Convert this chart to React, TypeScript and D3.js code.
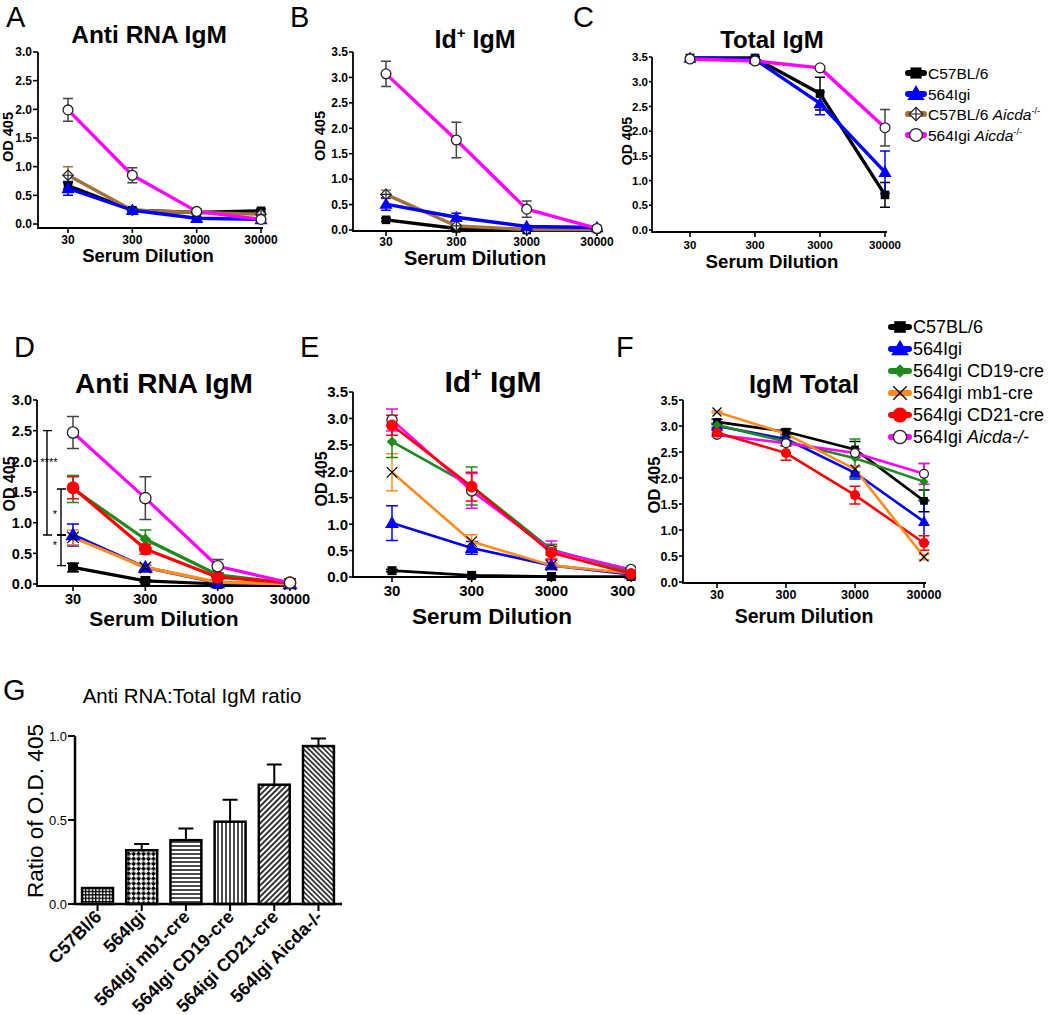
import React from "react";
import * as d3 from "d3";

const FONT = '"Liberation Sans", Arial, Helvetica, sans-serif';

// ---------- shared categories ----------
const dilutions = [30, 300, 3000, 30000];
const dilutionLabels = ["30", "300", "3000", "30000"];

// ---------- Panel A : Anti RNA IgM ----------
const aC57 = [0.67, 0.24, 0.2, 0.23];
const aC57Err = [0.06, 0.03, 0.03, 0.03];
const aIgi = [0.62, 0.24, 0.1, 0.08];
const aIgiErr = [0.12, 0.03, 0.02, 0.02];
const aC57Aicda = [0.85, 0.24, 0.2, 0.17];
const aC57AicdaErr = [0.15, 0.03, 0.02, 0.02];
const aIgiAicda = [1.99, 0.85, 0.22, 0.08];
const aIgiAicdaErr = [0.2, 0.13, 0.04, 0.03];

// ---------- Panel B : Id+ IgM ----------
const bC57 = [0.2, 0.03, 0.0, 0.02];
const bC57Err = [0.03, 0.01, 0.01, 0.01];
const bIgi = [0.51, 0.25, 0.07, 0.05];
const bIgiErr = [0.12, 0.08, 0.02, 0.01];
const bC57Aicda = [0.7, 0.08, 0.01, 0.01];
const bC57AicdaErr = [0.08, 0.02, 0.01, 0.01];
const bIgiAicda = [3.07, 1.77, 0.41, 0.03];
const bIgiAicdaErr = [0.25, 0.35, 0.16, 0.02];

// ---------- Panel C : Total IgM ----------
const cC57 = [3.48, 3.48, 2.76, 0.71];
const cC57Err = [0.02, 0.03, 0.33, 0.25];
const cIgi = [3.48, 3.45, 2.56, 1.17];
const cIgiErr = [0.02, 0.03, 0.23, 0.43];
const cIgiAicda = [3.46, 3.42, 3.28, 2.07];
const cIgiAicdaErr = [0.02, 0.02, 0.03, 0.37];

// ---------- Panel D : Anti RNA IgM ----------
const dC57 = [0.27, 0.05, 0.0, 0.0];
const dC57Err = [0.07, 0.02, 0.01, 0.01];
const dIgi = [0.8, 0.27, 0.02, 0.0];
const dIgiErr = [0.18, 0.04, 0.01, 0.01];
const dCD19 = [1.55, 0.73, 0.15, 0.01];
const dCD19Err = [0.22, 0.15, 0.03, 0.01];
const dMb1 = [0.76, 0.27, 0.03, 0.0];
const dMb1Err = [0.12, 0.04, 0.01, 0.01];
const dCD21 = [1.57, 0.57, 0.11, 0.02];
const dCD21Err = [0.18, 0.08, 0.03, 0.01];
const dAicda = [2.47, 1.4, 0.29, 0.02];
const dAicdaErr = [0.26, 0.35, 0.11, 0.01];

// significance brackets in D (data-space ends)
const sigFrom = [2.5, 1.55, 0.8];
const sigTo = [0.8, 0.8, 0.3];
const sigLabels = ["****", "*", "*"];
const sigLabelAt = [2.05, 1.2, 0.7];

// ---------- Panel E : Id+ IgM ----------
const eC57 = [0.12, 0.03, 0.01, 0.01];
const eC57Err = [0.02, 0.01, 0.01, 0.01];
const eIgi = [1.02, 0.55, 0.22, 0.05];
const eIgiErr = [0.33, 0.12, 0.04, 0.01];
const eCD19 = [2.56, 1.72, 0.52, 0.1];
const eCD19Err = [0.3, 0.36, 0.1, 0.02];
const eMb1 = [1.98, 0.67, 0.22, 0.07];
const eMb1Err = [0.35, 0.13, 0.04, 0.02];
const eCD21 = [2.87, 1.71, 0.46, 0.06];
const eCD21Err = [0.19, 0.27, 0.12, 0.02];
const eAicda = [2.97, 1.63, 0.5, 0.14];
const eAicdaErr = [0.21, 0.33, 0.18, 0.03];

// ---------- Panel F : IgM Total ----------
const fC57 = [3.08, 2.89, 2.55, 1.56];
const fC57Err = [0.05, 0.05, 0.15, 0.21];
const fIgi = [3.0, 2.75, 2.1, 1.16];
const fIgiErr = [0.05, 0.06, 0.12, 0.4];
const fCD19 = [3.02, 2.7, 2.38, 1.93];
const fCD19Err = [0.04, 0.08, 0.37, 0.35];
const fMb1 = [3.27, 2.85, 2.17, 0.48];
const fMb1Err = [0.02, 0.03, 0.05, 0.05];
const fCD21 = [2.87, 2.48, 1.67, 0.75];
const fCD21Err = [0.05, 0.14, 0.17, 0.14];
const fAicda = [2.83, 2.67, 2.48, 2.08];
const fAicdaErr = [0.03, 0.05, 0.08, 0.2];

// ---------- Panel G : ratio bars ----------
const ratioCats = [
  "C57Bl/6",
  "564Igi",
  "564Igi mb1-cre",
  "564Igi CD19-cre",
  "564igi CD21-cre",
  "564Igi Aicda-/-",
];
const ratioValues = [0.095, 0.32, 0.38, 0.49, 0.71, 0.94];
const ratioErr = [0.0, 0.037, 0.07, 0.13, 0.12, 0.045];
const ratioPatterns = ["pGrid", "pChecker", "pH", "pV", "pD1", "pD2"];
const ratioTicks = [0, 0.5, 1.0];

// ---------- legends ----------
const legendCKeys = ["c57", "igi", "c57aicda", "igiaicda"];
const legendCNames = ["C57BL/6", "564Igi", "C57BL/6 ", "564Igi "];
const legendCItalic = ["", "", "Aicda", "Aicda"];
const legendCSup = ["", "", "-/-", "-/-"];

const legendFKeys = ["c57", "igi", "cd19", "mb1", "cd21", "igiaicda"];
const legendFNames = ["C57BL/6", "564Igi", "564Igi CD19-cre", "564Igi mb1-cre", "564Igi CD21-cre", "564Igi "];
const legendFItalic = ["", "", "", "", "", "Aicda-/-"];

// ---------- styles ----------
const STYLE: Record<string, { color: string; marker: string }> = {
  c57: { color: "#000000", marker: "square" },
  igi: { color: "#0000ff", marker: "triangle" },
  c57aicda: { color: "#a4703c", marker: "diamondCross" },
  igiaicda: { color: "#ff00ff", marker: "circleOpen" },
  cd19: { color: "#1e8a1e", marker: "diamond" },
  mb1: { color: "#ff8c1a", marker: "x" },
  cd21: { color: "#ff0000", marker: "circleFilled" },
};

function Marker({ kind, x, y, s }: { kind: string; x: number; y: number; s: number }) {
  switch (kind) {
    case "square":
      return <rect x={x - 4.3 * s} y={y - 4.3 * s} width={8.6 * s} height={8.6 * s} fill="#000" />;
    case "triangle": {
      const p = d3.symbol().type(d3.symbolTriangle).size(75 * s * s)() as string;
      return <path d={p} transform={`translate(${x},${y + 1})`} fill="#0000ff" />;
    }
    case "diamondCross": {
      const r = 5.2 * s;
      return (
        <g stroke="#222" strokeWidth={1.2} fill="#fff">
          <path d={`M${x},${y - r}L${x + r},${y}L${x},${y + r}L${x - r},${y}Z`} />
          <path d={`M${x - r},${y}L${x + r},${y}M${x},${y - r}L${x},${y + r}`} fill="none" />
        </g>
      );
    }
    case "circleOpen":
      return <circle cx={x} cy={y} r={4.9 * s} fill="#fff" stroke="#222" strokeWidth={1.3} />;
    case "diamond": {
      const r = 5 * s;
      return <path d={`M${x},${y - r}L${x + r},${y}L${x},${y + r}L${x - r},${y}Z`} fill="#1e8a1e" />;
    }
    case "x": {
      const r = 5 * s;
      return (
        <path
          d={`M${x - r},${y - r}L${x + r},${y + r}M${x - r},${y + r}L${x + r},${y - r}`}
          stroke="#000"
          strokeWidth={1.3}
          fill="none"
        />
      );
    }
    case "circleFilled":
      return <circle cx={x} cy={y} r={5.6 * s} fill="#ff0000" />;
    default:
      return null;
  }
}

type Series = { key: string; values: number[]; err: number[] };

type PanelCfg = {
  id: string;
  letter: string;
  letterX: number;
  letterY: number;
  title: string;
  titleSup?: boolean;
  titleX: number;
  titleY: number;
  titleSize: number;
  axisX: number;
  x30: number;
  x30000: number;
  y0: number;
  yTop: number;
  yMax: number;
  xAxisY: number;
  tickSize: number;
  xTickDy: number;
  yTickLen: number;
  xTitleX: number;
  xTitleY: number;
  xTitleSize: number;
  odX: number;
  odY: number;
  odSize: number;
  lineW: number;
  ms: number;
  capW: number;
  clipX?: number;
  circleErrColor: string;
  series: Series[];
};

function LinePanel({ cfg, children }: { cfg: PanelCfg; children?: React.ReactNode }) {
  const x = d3.scaleLog().domain([30, 30000]).range([cfg.x30, cfg.x30000]);
  const y = d3.scaleLinear().domain([0, cfg.yMax]).range([cfg.y0, cfg.yTop]);
  const line = d3
    .line<number>()
    .x((_, i) => x(dilutions[i]))
    .y((d) => y(d));
  const yTicks = d3.range(0, cfg.yMax + 1e-6, 0.5);
  const fmt = d3.format(".1f");
  const supSize = cfg.titleSize * 0.6;
  return (
    <g clipPath={cfg.clipX ? `url(#clip${cfg.id})` : undefined}>
      {cfg.clipX ? (
        <defs>
          <clipPath id={`clip${cfg.id}`}>
            <rect x={0} y={0} width={cfg.clipX} height={1015} />
          </clipPath>
        </defs>
      ) : null}
      <text x={cfg.letterX} y={cfg.letterY} fontSize={29} fontFamily={FONT}>
        {cfg.letter}
      </text>
      <text x={cfg.titleX} y={cfg.titleY} fontSize={cfg.titleSize} fontWeight="bold" fontFamily={FONT} textAnchor="middle">
        {cfg.titleSup ? (
          <>
            Id
            <tspan fontSize={supSize} dy={-cfg.titleSize * 0.4}>
              +
            </tspan>
            <tspan dy={cfg.titleSize * 0.4}> IgM</tspan>
          </>
        ) : (
          cfg.title
        )}
      </text>
      {/* axes */}
      <path
        d={`M${cfg.axisX},${cfg.yTop}V${cfg.xAxisY}H${cfg.x30000 + 2}`}
        fill="none"
        stroke="#000"
        strokeWidth={1.8}
      />
      {yTicks.map((t) => (
        <g key={t}>
          <line x1={cfg.axisX - cfg.yTickLen} x2={cfg.axisX} y1={y(t)} y2={y(t)} stroke="#000" strokeWidth={1.6} />
          <text
            x={cfg.axisX - cfg.yTickLen - 1}
            y={y(t)}
            dy="0.36em"
            textAnchor="end"
            fontSize={cfg.tickSize}
            fontWeight="bold"
            fontFamily={FONT}
          >
            {fmt(t)}
          </text>
        </g>
      ))}
      {dilutions.map((d, i) => (
        <g key={d}>
          <line x1={x(d)} x2={x(d)} y1={cfg.xAxisY} y2={cfg.xAxisY + 5} stroke="#000" strokeWidth={1.6} />
          <text
            x={x(d)}
            y={cfg.xAxisY + cfg.xTickDy}
            textAnchor="middle"
            fontSize={cfg.tickSize}
            fontWeight="bold"
            fontFamily={FONT}
          >
            {dilutionLabels[i]}
          </text>
        </g>
      ))}
      <text
        x={cfg.xTitleX}
        y={cfg.xTitleY}
        textAnchor="middle"
        fontSize={cfg.xTitleSize}
        fontWeight="bold"
        fontFamily={FONT}
      >
        Serum Dilution
      </text>
      <text
        transform={`translate(${cfg.odX},${cfg.odY}) rotate(-90)`}
        textAnchor="middle"
        fontSize={cfg.odSize}
        fontWeight="bold"
        fontFamily={FONT}
      >
        OD 405
      </text>
      {children}
      {/* error bars */}
      {cfg.series.map((s) => {
        const st = STYLE[s.key];
        const ec = s.key === "igiaicda" ? cfg.circleErrColor : st.color;
        return (
          <g key={`e${s.key}`} stroke={ec} strokeWidth={1.5} fill="none">
            {s.values.map((v, i) => {
              const lo = Math.max(0, v - s.err[i]);
              const hi = v + s.err[i];
              const cx = x(dilutions[i]);
              return (
                <path
                  key={i}
                  d={`M${cx},${y(lo)}V${y(hi)}M${cx - cfg.capW / 2},${y(hi)}H${cx + cfg.capW / 2}M${cx - cfg.capW / 2},${y(lo)}H${cx + cfg.capW / 2}`}
                />
              );
            })}
          </g>
        );
      })}
      {/* lines */}
      {cfg.series.map((s) => (
        <path
          key={`l${s.key}`}
          d={line(s.values) as string}
          fill="none"
          stroke={STYLE[s.key].color}
          strokeWidth={cfg.lineW}
          strokeLinejoin="round"
        />
      ))}
      {/* markers */}
      {cfg.series.map((s) => (
        <g key={`m${s.key}`}>
          {s.values.map((v, i) => (
            <Marker key={i} kind={STYLE[s.key].marker} x={x(dilutions[i])} y={y(v)} s={cfg.ms} />
          ))}
        </g>
      ))}
    </g>
  );
}

const panelA: PanelCfg = {
  id: "A", letter: "A", letterX: 6, letterY: 27, title: "Anti RNA IgM", titleX: 149, titleY: 43, titleSize: 24.5,
  axisX: 38, x30: 68, x30000: 261, y0: 224, yTop: 52, yMax: 3.0, xAxisY: 228, tickSize: 12, xTickDy: 16, yTickLen: 5,
  xTitleX: 148, xTitleY: 262, xTitleSize: 18.5, odX: 13, odY: 137, odSize: 14.5, lineW: 3.4, ms: 1.0, capW: 10,
  circleErrColor: "#444",
  series: [
    { key: "c57", values: aC57, err: aC57Err },
    { key: "c57aicda", values: aC57Aicda, err: aC57AicdaErr },
    { key: "igi", values: aIgi, err: aIgiErr },
    { key: "igiaicda", values: aIgiAicda, err: aIgiAicdaErr },
  ],
};

const panelB: PanelCfg = {
  id: "B", letter: "B", letterX: 290, letterY: 27, title: "Id+ IgM", titleSup: true, titleX: 475, titleY: 48, titleSize: 25,
  axisX: 353, x30: 386, x30000: 597, y0: 230, yTop: 52, yMax: 3.5, xAxisY: 231, tickSize: 12, xTickDy: 15, yTickLen: 4,
  xTitleX: 475, xTitleY: 265, xTitleSize: 20, odX: 325, odY: 136, odSize: 14.5, lineW: 3.4, ms: 1.0, capW: 10,
  clipX: 614, circleErrColor: "#444",
  series: [
    { key: "c57", values: bC57, err: bC57Err },
    { key: "c57aicda", values: bC57Aicda, err: bC57AicdaErr },
    { key: "igi", values: bIgi, err: bIgiErr },
    { key: "igiaicda", values: bIgiAicda, err: bIgiAicdaErr },
  ],
};

const panelC: PanelCfg = {
  id: "C", letter: "C", letterX: 573, letterY: 27, title: "Total IgM", titleX: 772, titleY: 48, titleSize: 24,
  axisX: 652, x30: 690, x30000: 885, y0: 230, yTop: 57, yMax: 3.5, xAxisY: 232, tickSize: 11.5, xTickDy: 17, yTickLen: 3,
  xTitleX: 772, xTitleY: 268, xTitleSize: 18.7, odX: 632, odY: 141, odSize: 14, lineW: 3.4, ms: 1.0, capW: 10,
  circleErrColor: "#444",
  series: [
    { key: "c57", values: cC57, err: cC57Err },
    { key: "igi", values: cIgi, err: cIgiErr },
    { key: "igiaicda", values: cIgiAicda, err: cIgiAicdaErr },
  ],
};

const panelD: PanelCfg = {
  id: "D", letter: "D", letterX: 14, letterY: 357, title: "Anti RNA IgM", titleX: 164, titleY: 393, titleSize: 28,
  axisX: 37, x30: 73, x30000: 290, y0: 584, yTop: 400, yMax: 3.0, xAxisY: 586, tickSize: 14.5, xTickDy: 18, yTickLen: 4,
  xTitleX: 164, xTitleY: 626, xTitleSize: 21, odX: 15, odY: 484, odSize: 16, lineW: 3.2, ms: 1.15, capW: 12,
  circleErrColor: "#444",
  series: [
    { key: "c57", values: dC57, err: dC57Err },
    { key: "igi", values: dIgi, err: dIgiErr },
    { key: "mb1", values: dMb1, err: dMb1Err },
    { key: "cd19", values: dCD19, err: dCD19Err },
    { key: "cd21", values: dCD21, err: dCD21Err },
    { key: "igiaicda", values: dAicda, err: dAicdaErr },
  ],
};

const panelE: PanelCfg = {
  id: "E", letter: "E", letterX: 300, letterY: 357, title: "Id+ IgM", titleSup: true, titleX: 493, titleY: 392, titleSize: 30,
  axisX: 353, x30: 392, x30000: 631, y0: 577, yTop: 392, yMax: 3.5, xAxisY: 577, tickSize: 15, xTickDy: 19, yTickLen: 4,
  xTitleX: 492, xTitleY: 624, xTitleSize: 22.5, odX: 327, odY: 479, odSize: 16, lineW: 2.6, ms: 1.05, capW: 12,
  clipX: 636, circleErrColor: "#ff00ff",
  series: [
    { key: "c57", values: eC57, err: eC57Err },
    { key: "igi", values: eIgi, err: eIgiErr },
    { key: "mb1", values: eMb1, err: eMb1Err },
    { key: "cd19", values: eCD19, err: eCD19Err },
    { key: "igiaicda", values: eAicda, err: eAicdaErr },
    { key: "cd21", values: eCD21, err: eCD21Err },
  ],
};

const panelF: PanelCfg = {
  id: "F", letter: "F", letterX: 616, letterY: 357, title: "IgM Total", titleX: 804, titleY: 393, titleSize: 25.5,
  axisX: 683, x30: 717, x30000: 924, y0: 582, yTop: 400, yMax: 3.5, xAxisY: 583, tickSize: 12.5, xTickDy: 16, yTickLen: 4,
  xTitleX: 804, xTitleY: 623, xTitleSize: 19.5, odX: 660, odY: 485, odSize: 16.5, lineW: 2.6, ms: 0.9, capW: 11,
  circleErrColor: "#ff00ff",
  series: [
    { key: "c57", values: fC57, err: fC57Err },
    { key: "igi", values: fIgi, err: fIgiErr },
    { key: "cd19", values: fCD19, err: fCD19Err },
    { key: "igiaicda", values: fAicda, err: fAicdaErr },
    { key: "cd21", values: fCD21, err: fCD21Err },
    { key: "mb1", values: fMb1, err: fMb1Err },
  ],
};

function SigBrackets() {
  const y = d3.scaleLinear().domain([0, panelD.yMax]).range([panelD.y0, panelD.yTop]);
  const lineX = [47, 61, 61];
  const labelX = [49, 55, 55];
  return (
    <g>
      {sigFrom.map((f, i) => (
        <g key={i}>
          <path
            d={`M${lineX[i]},${y(f)}V${y(sigTo[i])}M${lineX[i] - 4},${y(f)}H${lineX[i] + 5}M${lineX[i] - 4},${y(sigTo[i])}H${lineX[i] + 5}`}
            stroke="#000"
            strokeWidth={1.4}
            fill="none"
          />
          <text
            x={labelX[i]}
            y={y(sigLabelAt[i])}
            dy="0.7em"
            textAnchor="middle"
            fontSize={11}
            fontFamily={FONT}
          >
            {sigLabels[i]}
          </text>
        </g>
      ))}
    </g>
  );
}

function LegendRow({
  k,
  x,
  y,
  name,
  italic,
  sup,
  size,
  halfLen,
  lineW,
  ms,
}: {
  k: string;
  x: number;
  y: number;
  name: string;
  italic: string;
  sup?: string;
  size: number;
  halfLen: number;
  lineW: number;
  ms: number;
}) {
  const st = STYLE[k];
  return (
    <g>
      <line x1={x - halfLen} x2={x + halfLen} y1={y} y2={y} stroke={st.color} strokeWidth={lineW} strokeLinecap="round" />
      <Marker kind={st.marker} x={x} y={y} s={ms} />
      <text x={x + halfLen + 4} y={y} dy="0.36em" fontSize={size} fontFamily={FONT}>
        {name}
        {italic ? <tspan fontStyle="italic">{italic}</tspan> : null}
        {sup ? (
          <tspan fontSize={size * 0.6} dy={-size * 0.38}>
            {sup}
          </tspan>
        ) : null}
      </text>
    </g>
  );
}

function Legends() {
  const cRows = [73, 94, 114, 135];
  const fY0 = 327;
  return (
    <g>
      {legendCKeys.map((k, i) => (
        <LegendRow
          key={k}
          k={k}
          x={916}
          y={cRows[i]}
          name={legendCNames[i]}
          italic={legendCItalic[i]}
          sup={legendCSup[i]}
          size={15.5}
          halfLen={8}
          lineW={6}
          ms={1.3}
        />
      ))}
      {legendFKeys.map((k, i) => (
        <LegendRow
          key={k}
          k={k}
          x={900}
          y={fY0 + i * 22}
          name={legendFNames[i]}
          italic={legendFItalic[i]}
          size={18}
          halfLen={9}
          lineW={6}
          ms={1.35}
        />
      ))}
    </g>
  );
}

function PanelG() {
  const x = d3.scaleBand<string>().domain(ratioCats).range([75, 341]).paddingInner(0.3).paddingOuter(0.16);
  const y = d3.scaleLinear().domain([0, 1]).range([904, 736]);
  const bw = x.bandwidth();
  return (
    <g>
      <defs>
        <pattern id="pGrid" width={3.4} height={3.4} patternUnits="userSpaceOnUse">
          <rect width={3.4} height={3.4} fill="#fff" />
          <path d="M0,0.6H3.4M0.6,0V3.4" stroke="#000" strokeWidth={1.3} />
        </pattern>
        <pattern id="pChecker" width={7} height={7} patternUnits="userSpaceOnUse" patternTransform="rotate(45)">
          <rect width={7} height={7} fill="#fff" />
          <rect x={0} y={0} width={3.5} height={3.5} fill="#000" />
          <rect x={3.5} y={3.5} width={3.5} height={3.5} fill="#000" />
        </pattern>
        <pattern id="pH" width={4} height={4} patternUnits="userSpaceOnUse">
          <rect width={4} height={4} fill="#fff" />
          <path d="M0,2H4" stroke="#000" strokeWidth={1.4} />
        </pattern>
        <pattern id="pV" width={4} height={4} patternUnits="userSpaceOnUse">
          <rect width={4} height={4} fill="#fff" />
          <path d="M2,0V4" stroke="#000" strokeWidth={1.4} />
        </pattern>
        <pattern id="pD1" width={4} height={4} patternUnits="userSpaceOnUse" patternTransform="rotate(45)">
          <rect width={4} height={4} fill="#fff" />
          <path d="M2,0V4" stroke="#000" strokeWidth={1.6} />
        </pattern>
        <pattern id="pD2" width={3.6} height={3.6} patternUnits="userSpaceOnUse" patternTransform="rotate(-45)">
          <rect width={3.6} height={3.6} fill="#fff" />
          <path d="M1.8,0V3.6" stroke="#000" strokeWidth={1.4} />
        </pattern>
      </defs>
      <text x={3} y={700} fontSize={29} fontFamily={FONT}>
        G
      </text>
      <text x={192} y={703} fontSize={20.5} textAnchor="middle" fontFamily={FONT}>
        Anti RNA:Total IgM ratio
      </text>
      <text
        transform="translate(43,811) rotate(-90)"
        textAnchor="middle"
        fontSize={22.5}
        fontFamily={FONT}
      >
        Ratio of O.D. 405
      </text>
      {/* error bars */}
      {ratioCats.map((c, i) => {
        const cx = (x(c) as number) + bw / 2;
        if (ratioErr[i] <= 0) return null;
        const top = y(ratioValues[i] + ratioErr[i]);
        return (
          <path
            key={`e${c}`}
            d={`M${cx},${y(ratioValues[i])}V${top}M${cx - 7.5},${top}H${cx + 7.5}`}
            stroke="#000"
            strokeWidth={2}
            fill="none"
          />
        );
      })}
      {ratioCats.map((c, i) => (
        <rect
          key={c}
          x={x(c) as number}
          y={y(ratioValues[i])}
          width={bw}
          height={y(0) - y(ratioValues[i])}
          fill={`url(#${ratioPatterns[i]})`}
          stroke="#000"
          strokeWidth={2.5}
        />
      ))}
      <path d={`M75,${y(1)}V${y(0)}H342`} fill="none" stroke="#000" strokeWidth={2.5} />
      {ratioTicks.map((t) => (
        <g key={t}>
          <line x1={68} x2={75} y1={y(t)} y2={y(t)} stroke="#000" strokeWidth={2} />
          <text x={67} y={y(t)} dy="0.36em" textAnchor="end" fontSize={13} fontFamily={FONT}>
            {d3.format(".1f")(t)}
          </text>
        </g>
      ))}
      {ratioCats.map((c) => {
        const cx = (x(c) as number) + bw / 2;
        return (
          <g key={`t${c}`}>
            <line x1={cx} x2={cx} y1={y(0)} y2={y(0) + 7} stroke="#000" strokeWidth={2} />
            <text
              transform={`translate(${cx + 5},${y(0) + 14}) rotate(-45)`}
              textAnchor="end"
              fontSize={18}
              fontWeight="bold"
              fontFamily={FONT}
            >
              {c}
            </text>
          </g>
        );
      })}
    </g>
  );
}

export default function App() {
  return (
    <svg
      width={1050}
      height={1015}
      viewBox="0 0 1050 1015"
      style={{ position: "absolute", left: 0, top: 0, background: "#fff" }}
    >
      <rect width={1050} height={1015} fill="#fff" />
      <LinePanel cfg={panelA} />
      <LinePanel cfg={panelB} />
      <LinePanel cfg={panelC} />
      <LinePanel cfg={panelD}>
        <SigBrackets />
      </LinePanel>
      <LinePanel cfg={panelE} />
      <LinePanel cfg={panelF} />
      <Legends />
      <PanelG />
    </svg>
  );
}
